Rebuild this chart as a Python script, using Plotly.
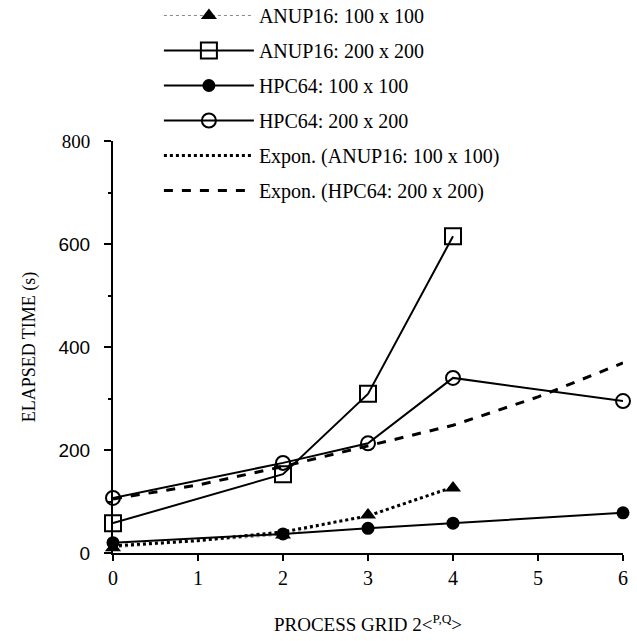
import plotly.graph_objects as go

# ---- data ----
x_anup100 = [0, 2, 3, 4]
y_anup100 = [10, 35, 74, 126]

x_anup200 = [0, 2, 3, 4]
y_anup200 = [58, 153, 309, 615]

x_hpc100 = [0, 2, 3, 4, 6]
y_hpc100 = [20, 37, 48, 58, 78]

x_hpc200 = [0, 2, 3, 4, 6]
y_hpc200 = [107, 175, 213, 340, 295]

x_exp_anup100 = [0, 1, 2, 3, 4]
y_exp_anup100 = [14, 24, 41, 72, 128]

x_exp_hpc200 = [0, 1, 2, 3, 4, 5, 6]
y_exp_hpc200 = [105, 132, 168, 208, 248, 303, 369]

x_ticks = [0, 1, 2, 3, 4, 5, 6]
y_ticks = [0, 200, 400, 600, 800]
y_ticktext = ["0", "200", "400", "600",
              "<span style='font-family:Liberation Serif'>800</span>"]

SERIF = "Liberation Serif"
SANS = "Liberation Sans"

fig = go.Figure()

fig.add_trace(go.Scatter(
    x=x_anup100, y=y_anup100, name="ANUP16: 100 x 100", mode="lines+markers",
    line=dict(color="#888888", width=1, dash="dot"),
    marker=dict(symbol="triangle-up", size=14, color="black"),
    cliponaxis=False, legendgroup="a"))
fig.add_trace(go.Scatter(
    x=x_anup200, y=y_anup200, name="ANUP16: 200 x 200", mode="lines+markers",
    line=dict(color="black", width=2),
    marker=dict(symbol="square-open", size=16, color="black", line=dict(width=2)),
    cliponaxis=False, legendgroup="b"))
fig.add_trace(go.Scatter(
    x=x_hpc100, y=y_hpc100, name="HPC64: 100 x 100", mode="lines+markers",
    line=dict(color="black", width=2),
    marker=dict(symbol="circle", size=13, color="black"),
    cliponaxis=False, legendgroup="c"))
fig.add_trace(go.Scatter(
    x=x_hpc200, y=y_hpc200, name="HPC64: 200 x 200", mode="lines+markers",
    line=dict(color="black", width=2),
    marker=dict(symbol="circle-open", size=14, color="black", line=dict(width=2)),
    cliponaxis=False, legendgroup="d"))
fig.add_trace(go.Scatter(
    x=x_exp_anup100, y=y_exp_anup100, name="Expon. (ANUP16: 100 x 100)", mode="lines",
    line=dict(color="black", width=3, dash="dot"),
    cliponaxis=False, legendgroup="e"))
fig.add_trace(go.Scatter(
    x=x_exp_hpc200, y=y_exp_hpc200, name="Expon. (HPC64: 200 x 200)", mode="lines",
    line=dict(color="black", width=3, dash="dash"),
    cliponaxis=False, legendgroup="f"))

fig.update_layout(
    width=637, height=641,
    margin=dict(l=113, r=14, t=141, b=88, autoexpand=False),
    paper_bgcolor="white", plot_bgcolor="white",
    font=dict(family=SERIF, size=18, color="black"),
    showlegend=True,
    legend=dict(
        x=0.09, y=1.352, xanchor="left", yanchor="top",
        bgcolor="rgba(0,0,0,0)", itemwidth=90,
        tracegroupgap=6, traceorder="grouped",
        font=dict(family=SERIF, size=20, color="black"),
    ),
    xaxis=dict(
        range=[0, 6], tickvals=x_ticks, ticktext=[str(v) for v in x_ticks],
        showgrid=False, zeroline=False, showline=True, linecolor="black", linewidth=2,
        ticks="outside", ticklen=6, tickwidth=1.5, tickcolor="black",
        tickfont=dict(family=SERIF, size=20),
        title=dict(text="PROCESS GRID 2&lt;<sup>P,Q</sup>&gt;",
                   font=dict(family=SERIF, size=19), standoff=30),
    ),
    yaxis=dict(
        range=[0, 800], tickvals=y_ticks, ticktext=y_ticktext,
        showgrid=False, zeroline=False, showline=True, linecolor="black", linewidth=2,
        ticks="outside", ticklen=7, tickwidth=1.5, tickcolor="black",
        tickfont=dict(family=SANS, size=19),
        ticklabelstandoff=10,
        minor=dict(ticks="outside", ticklen=3, tickcolor="black", dtick=100),
        title=dict(text="ELAPSED TIME (s)", font=dict(family=SERIF, size=18), standoff=18),
    ),
)

fig.write_html("out.html")
